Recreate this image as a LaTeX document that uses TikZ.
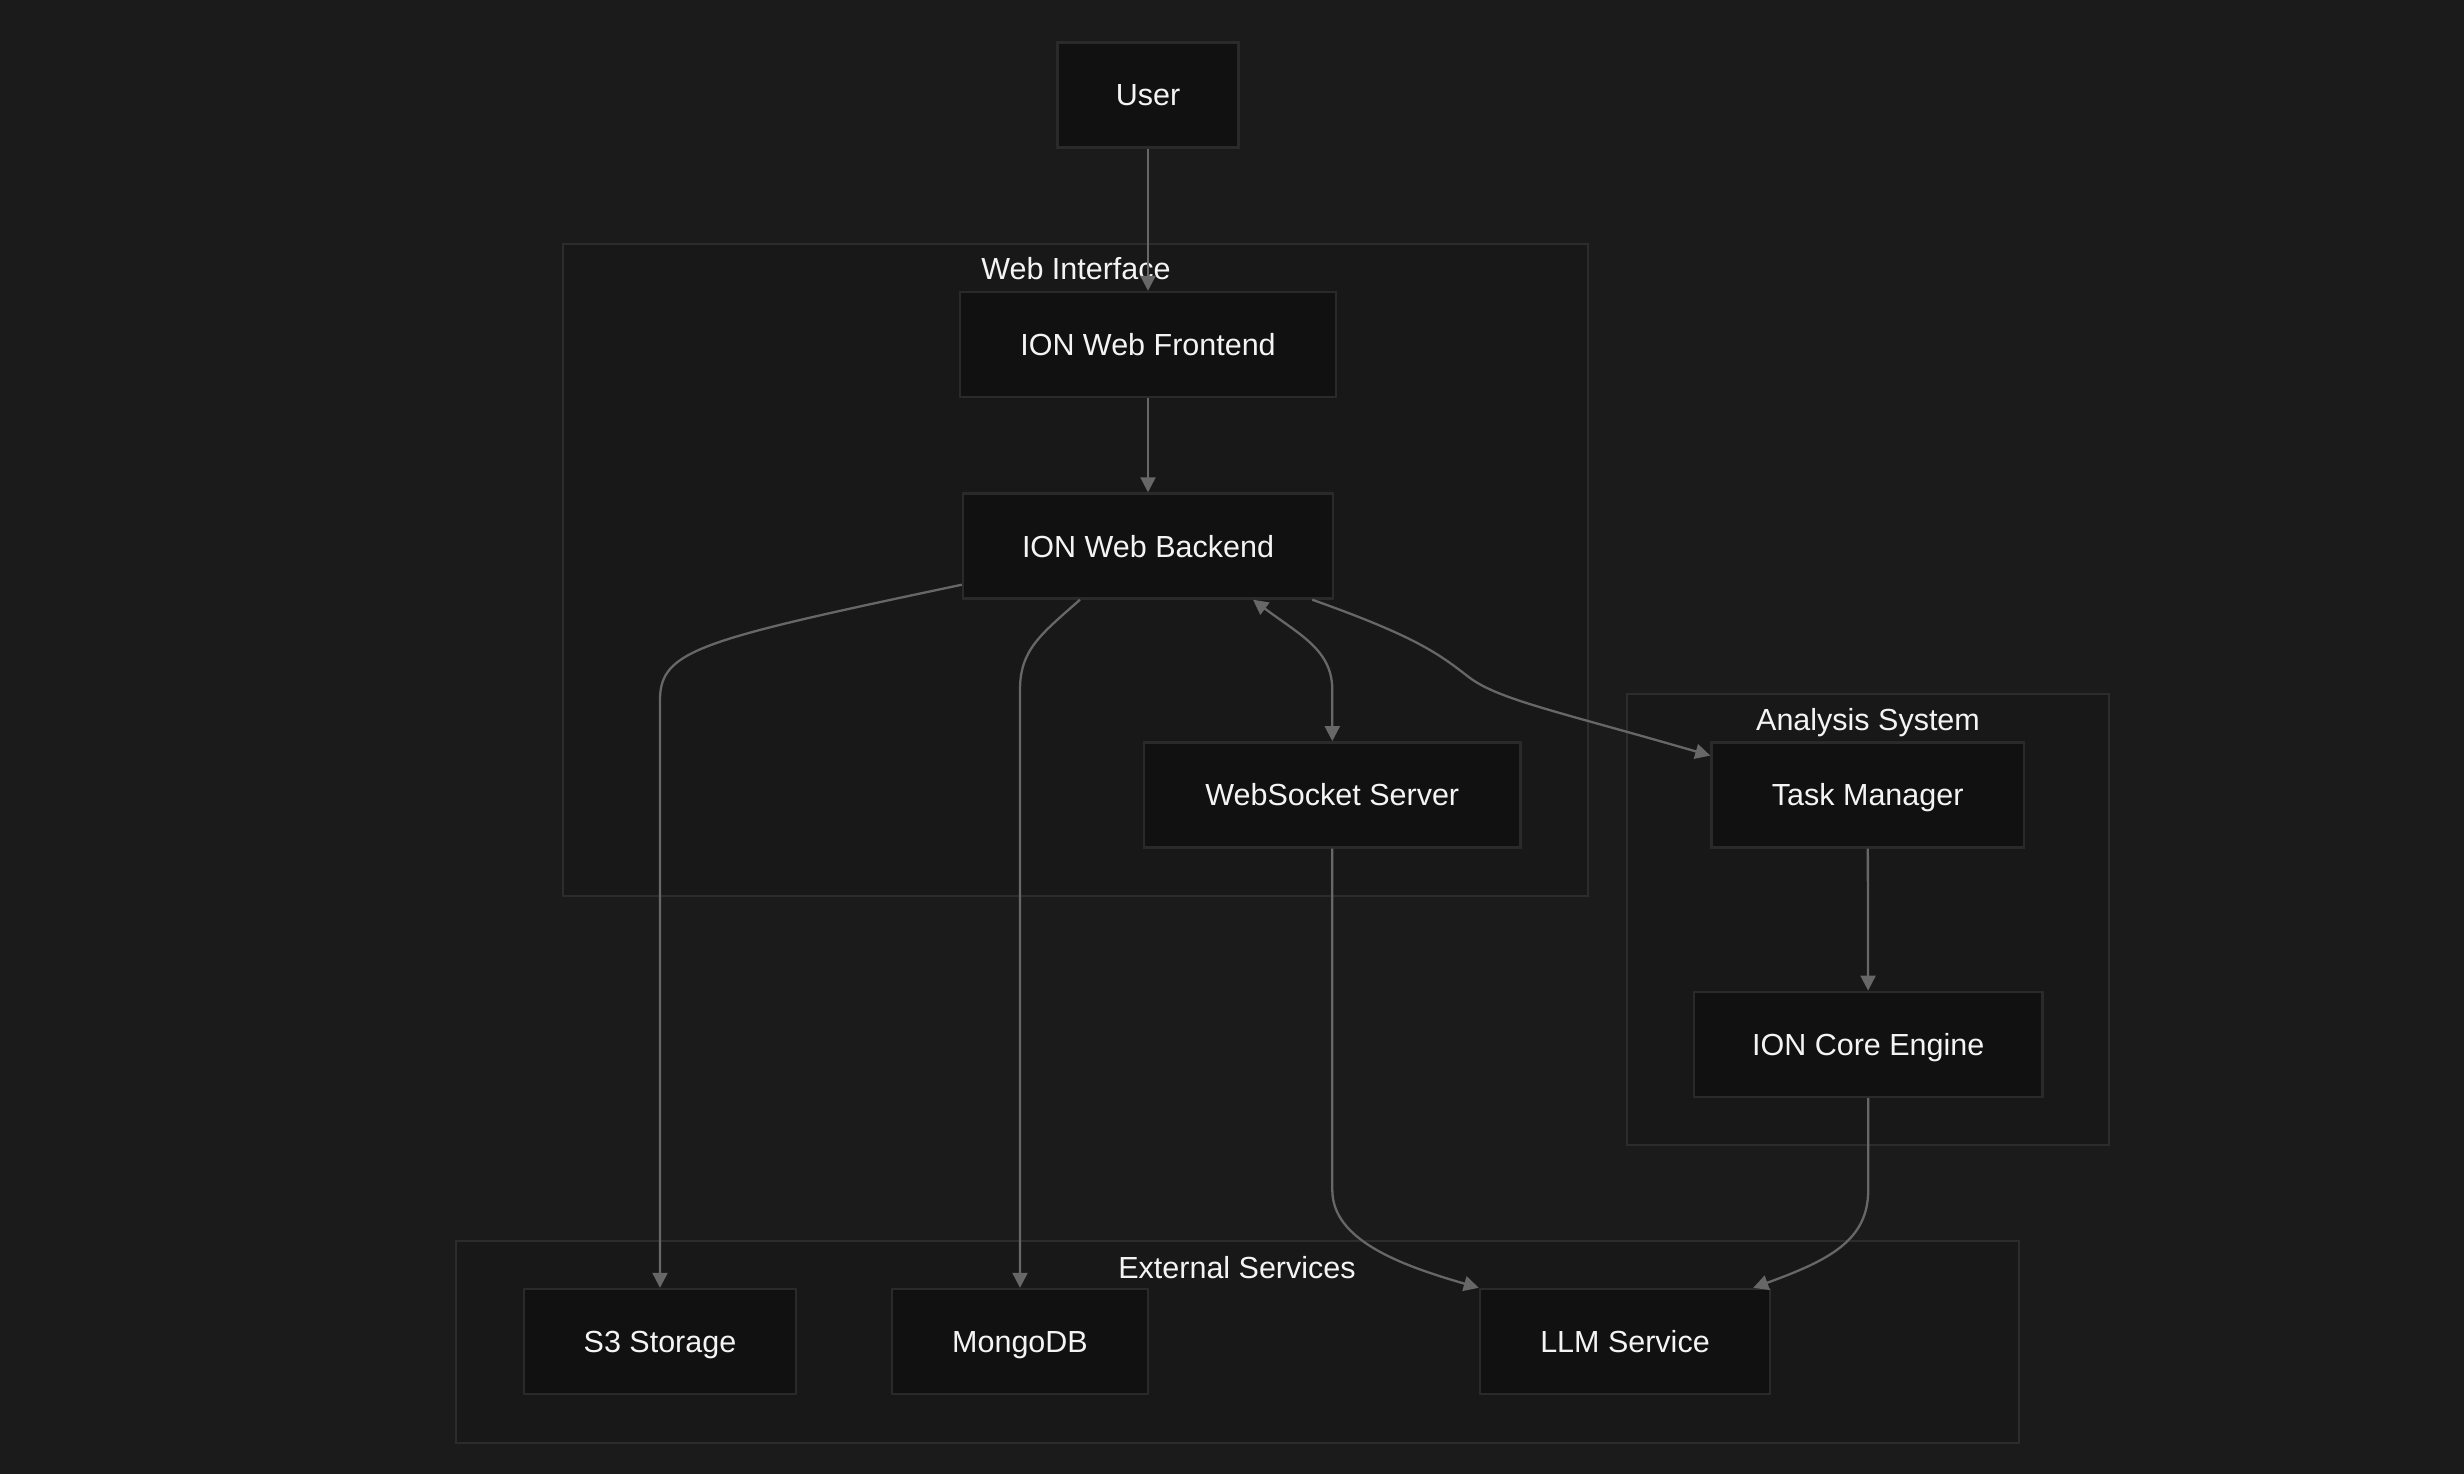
\documentclass[tikz,border=0pt]{standalone}
\usepackage{fontspec}
\setmainfont{Liberation Sans}
\usetikzlibrary{arrows.meta}
\definecolor{bgc}{HTML}{1B1B1B}
\definecolor{clfill}{HTML}{181818}
\definecolor{clline}{HTML}{2C2C2C}
\definecolor{ndfill}{HTML}{111111}
\definecolor{ndline}{HTML}{2A2A2A}
\definecolor{edgec}{HTML}{676767}
\definecolor{txtc}{HTML}{F4F4F4}
\tikzset{
  box/.style={draw=ndline, line width=2.4pt, fill=ndfill, text=txtc, inner sep=0pt,
    minimum height=105pt, text height=22pt, text depth=0pt, font=\fontsize{30.5pt}{36pt}\selectfont},
  cluster/.style={draw=clline, line width=2pt, fill=clfill},
  cltitle/.style={text=txtc, inner sep=0pt, text height=22pt, text depth=0pt, font=\fontsize{30.5pt}{36pt}\selectfont},
  conn/.style={draw=edgec, line width=2.3pt, -{Triangle[length=15pt,width=15pt]}},
  biconn/.style={draw=edgec, line width=2.3pt, {Triangle[length=15pt,width=15pt]}-{Triangle[length=15pt,width=15pt]}}
}
\begin{document}
\begin{tikzpicture}[x=1pt,y=-1pt]
\useasboundingbox (0,0) rectangle (2464,1474);
\fill[bgc] (0,0) rectangle (2464,1474);
% clusters
\draw[cluster] (562.6,243.6) rectangle (1587.6,895.6);
\node[cltitle] (tweb) at (1076,268.5) {Web Interface};
\draw[cluster] (1626.5,694.3) rectangle (2109.4,1145);
\node[cltitle] (tana) at (1868,719) {Analysis System};
\draw[cluster] (456,1241) rectangle (2019,1443);
\node[cltitle] (text) at (1237,1267.5) {External Services};
% nodes
\node[box, minimum width=181pt] (user) at (1148,95) {User};
\node[box, minimum width=375.5pt] (fe) at (1148,344.5) {ION Web Frontend};
\node[box, minimum width=370pt] (be) at (1148,546) {ION Web Backend};
\node[box, minimum width=376.6pt] (ws) at (1332.3,794.8) {WebSocket Server};
\node[box, minimum width=312.5pt] (tm) at (1867.7,794.8) {Task Manager};
\node[box, minimum width=348.4pt] (core) at (1868.2,1044.3) {ION Core Engine};
\node[box, minimum width=272pt] (s3) at (660,1341.5) {S3 Storage};
\node[box, minimum width=256pt] (mongo) at (1020,1341.5) {MongoDB};
\node[box, minimum width=290pt] (llm) at (1625,1341.5) {LLM Service};
% connectors
\draw[conn] (user) -- (fe);
\draw[conn] (fe) -- (be);
\draw[conn] ([yshift=15pt]be.south west) .. controls (700,640) and (660,650) .. (660,700) -- (s3.north);
\draw[conn] ([xshift=-68pt]be.south) .. controls (1040,635) and (1020,650) .. (1020,690) -- (mongo.north);
\draw[biconn] ([xshift=105pt]be.south) .. controls (1300,635) and (1332.3,650) .. (1332.3,690) -- (ws.north);
\draw[conn] ([xshift=-22pt]be.south east) .. controls (1420,638) and (1440,655) .. (1470,678) .. controls (1500,700) and (1560,712) .. ([yshift=-14.5pt]tm.north west);
\draw[conn] (tm) -- (core);
\draw[conn] (ws.south) -- (1332.3,1190) .. controls (1332.3,1240) and (1400,1265) .. (llm.north west);
\draw[conn] (core.south) -- (1868.2,1190) .. controls (1868.2,1240) and (1830,1260) .. ([xshift=-18pt]llm.north east);
\end{tikzpicture}
\end{document}
